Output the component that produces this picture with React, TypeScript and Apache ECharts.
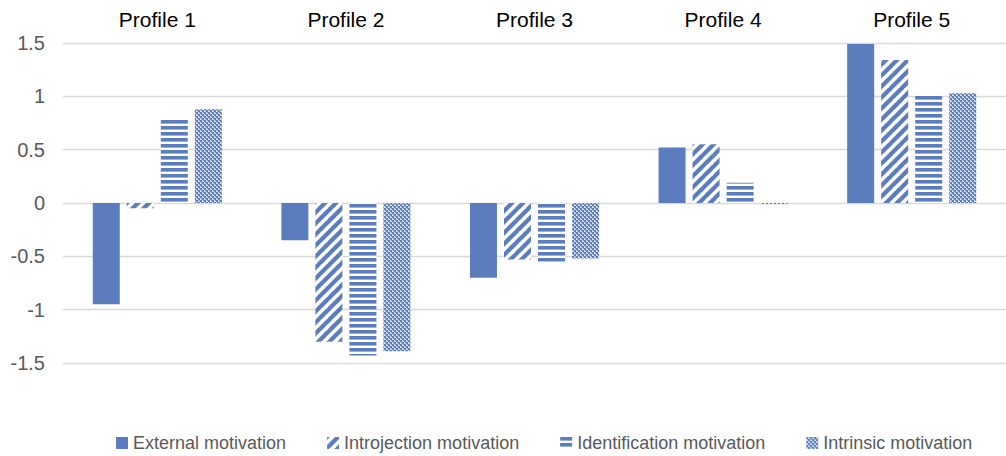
import React, { useEffect, useRef } from "react";
import * as echarts from "echarts";

const categories = ["Profile 1", "Profile 2", "Profile 3", "Profile 4", "Profile 5"];
const seriesNames = [
  "External motivation",
  "Introjection motivation",
  "Identification motivation",
  "Intrinsic motivation",
];
const external = [-0.95, -0.35, -0.7, 0.52, 1.49];
const introjection = [-0.05, -1.3, -0.53, 0.55, 1.34];
const identification = [0.79, -1.43, -0.55, 0.19, 1.02];
const intrinsic = [0.88, -1.39, -0.52, -0.01, 1.03];

const BLUE = "#5B7DBD";

function makeCanvas(w: number, h: number, draw: (ctx: CanvasRenderingContext2D) => void) {
  const c = document.createElement("canvas");
  c.width = w;
  c.height = h;
  const ctx = c.getContext("2d")!;
  draw(ctx);
  return c;
}

export default function App() {
  const ref = useRef<HTMLDivElement>(null);
  useEffect(() => {
    if (!ref.current) return;
    const chart = echarts.init(ref.current, undefined, { renderer: "svg" });
    const font = "'Liberation Sans', Arial, sans-serif";

    const diag = makeCanvas(11, 11, (ctx) => {
      ctx.fillStyle = "#ffffff";
      ctx.fillRect(0, 0, 11, 11);
      ctx.strokeStyle = BLUE;
      ctx.lineWidth = 4.2;
      for (let k = -1; k <= 1; k++) {
        ctx.beginPath();
        ctx.moveTo(k * 11 - 1, 12);
        ctx.lineTo(k * 11 + 12, -1);
        ctx.stroke();
      }
    });
    const horiz = makeCanvas(6, 6, (ctx) => {
      ctx.fillStyle = "#ffffff";
      ctx.fillRect(0, 0, 6, 6);
      ctx.fillStyle = BLUE;
      ctx.fillRect(0, 0, 6, 3.6);
    });
    const dots = makeCanvas(4, 4, (ctx) => {
      ctx.fillStyle = "#d6dfef";
      ctx.fillRect(0, 0, 4, 4);
      ctx.fillStyle = BLUE;
      ctx.fillRect(0, 0, 2, 2);
      ctx.fillRect(2, 2, 2, 2);
      ctx.fillStyle = "#7f97c9";
      ctx.fillRect(1, 2, 1, 1);
      ctx.fillRect(3, 0, 1, 1);
    });

    const colors: any[] = [
      BLUE,
      { image: diag, repeat: "repeat" },
      { image: horiz, repeat: "repeat" },
      { image: dots, repeat: "repeat" },
    ];
    const dataSets = [external, introjection, identification, intrinsic];
    chart.setOption({
      animation: false,
      textStyle: { fontFamily: font },
      grid: { left: 63, right: 0, top: 43, height: 320 },
      legend: {
        left: 111,
        top: 429,
        itemWidth: 12,
        itemHeight: 12,
        itemGap: 41,
        icon: "rect",
        textStyle: { color: "#595959", fontSize: 18, fontFamily: font },
        data: seriesNames,
      },
      xAxis: {
        type: "category",
        position: "top",
        data: categories,
        axisLine: { show: false },
        axisTick: { show: false },
        axisLabel: { color: "#000000", fontSize: 21, margin: 13, fontFamily: font },
      },
      yAxis: {
        type: "value",
        min: -1.5,
        max: 1.5,
        interval: 0.5,
        axisLine: { show: false },
        axisTick: { show: false },
        splitLine: { lineStyle: { color: "#D9D9D9", width: 1.3 } },
        axisLabel: { color: "#595959", fontSize: 20, margin: 18, fontFamily: font },
      },
      series: seriesNames.map((name, i) => ({
        name,
        type: "bar",
        data: dataSets[i],
        barWidth: 27,
        barGap: "26%",
        itemStyle: { color: colors[i] },
      })),
    });
    return () => chart.dispose();
  }, []);
  return (
    <div
      ref={ref}
      style={{ position: "fixed", left: 0, top: 0, width: 1006, height: 456, background: "#fff" }}
    />
  );
}
